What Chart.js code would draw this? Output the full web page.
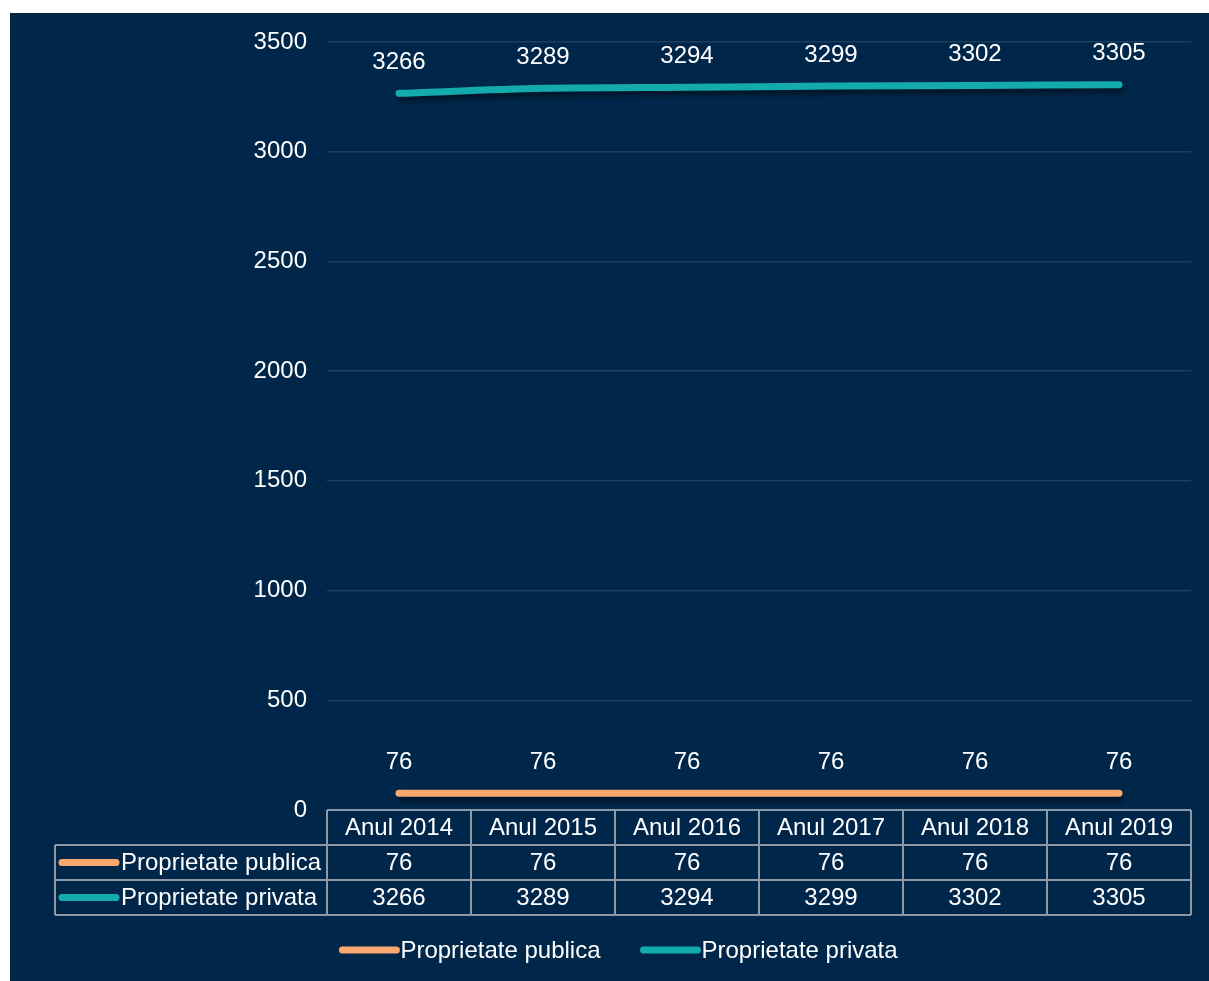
<!DOCTYPE html>
<html>
<head>
<meta charset="utf-8">
<script src="https://cdn.jsdelivr.net/npm/chart.js@4/dist/chart.umd.min.js"></script>
<style>
  body { margin: 0; background: #ffffff; }
  #wrap { position: absolute; left: 10px; top: 13px; width: 1199px; height: 968px; background: #00274a; }
</style>
</head>
<body>
<div id="wrap"><canvas id="myChart"></canvas></div>
<script>
const years = ["Anul 2014", "Anul 2015", "Anul 2016", "Anul 2017", "Anul 2018", "Anul 2019"];
const publica = [76, 76, 76, 76, 76, 76];
const privata = [3266, 3289, 3294, 3299, 3302, 3305];
const seriesNames = ["Proprietate publica", "Proprietate privata"];
const seriesColors = ["#f9a86f", "#14abac"];

const FONT = '24px "Liberation Sans", Arial, sans-serif';

// shadow under the lines
const shadowPlugin = {
  id: 'shadow',
  beforeDatasetDraw(chart) {
    const ctx = chart.ctx;
    ctx.save();
    ctx.shadowColor = 'rgba(0,0,0,0.55)';
    ctx.shadowBlur = 6;
    ctx.shadowOffsetX = 2;
    ctx.shadowOffsetY = 4;
  },
  afterDatasetDraw(chart) {
    chart.ctx.restore();
  }
};

function legendLine(ctx, x1, x2, y, color) {
  ctx.save();
  ctx.strokeStyle = color;
  ctx.lineWidth = 7;
  ctx.lineCap = 'round';
  ctx.beginPath();
  ctx.moveTo(x1, y);
  ctx.lineTo(x2, y);
  ctx.stroke();
  ctx.restore();
}

// data labels, data table and legend
const tablePlugin = {
  id: 'table',
  afterDatasetsDraw(chart) {
    const ctx = chart.ctx;
    ctx.save();
    ctx.font = FONT;
    ctx.fillStyle = '#ffffff';
    ctx.textAlign = 'center';
    ctx.textBaseline = 'middle';
    chart.data.datasets.forEach((ds, di) => {
      chart.getDatasetMeta(di).data.forEach((pt, i) => {
        ctx.fillText(String(ds.data[i]), pt.x, pt.y - 31);
      });
    });
    ctx.restore();
  },
  afterDraw(chart) {
    const ctx = chart.ctx;
    const area = chart.chartArea;
    const xs = chart.scales.x;
    const rowH = 35;
    const top = area.bottom;
    const half = (xs.getPixelForValue(1) - xs.getPixelForValue(0)) / 2;
    const leftX = 45;

    ctx.save();
    ctx.strokeStyle = '#8d99a6';
    ctx.lineWidth = 2;
    // horizontal lines
    ctx.beginPath();
    ctx.moveTo(area.left, top); ctx.lineTo(area.right, top);
    for (let r = 1; r <= 3; r++) {
      ctx.moveTo(leftX, top + r * rowH); ctx.lineTo(area.right, top + r * rowH);
    }
    // vertical lines
    ctx.moveTo(leftX, top + rowH); ctx.lineTo(leftX, top + 3 * rowH);
    for (let i = 0; i < years.length; i++) {
      const x = xs.getPixelForValue(i) - half;
      ctx.moveTo(x, top); ctx.lineTo(x, top + 3 * rowH);
    }
    ctx.moveTo(area.right, top); ctx.lineTo(area.right, top + 3 * rowH);
    ctx.stroke();

    ctx.font = FONT;
    ctx.fillStyle = '#ffffff';
    ctx.textAlign = 'center';
    ctx.textBaseline = 'middle';
    const rows = [publica, privata];
    years.forEach((y, i) => {
      const cx = xs.getPixelForValue(i);
      ctx.fillText(y, cx, top + rowH / 2 + 1);
      rows.forEach((vals, r) => {
        ctx.fillText(String(vals[i]), cx, top + rowH * (r + 1.5) + 1);
      });
    });

    // series keys in the table
    ctx.textAlign = 'left';
    seriesNames.forEach((name, r) => {
      const cy = top + rowH * (r + 1.5);
      legendLine(ctx, 52, 106, cy, seriesColors[r]);
      ctx.fillStyle = '#ffffff';
      ctx.fillText(name, 111, cy + 1);
    });

    // bottom legend
    const ly = 937;
    const w0 = ctx.measureText(seriesNames[0]).width;
    const w1 = ctx.measureText(seriesNames[1]).width;
    const total = 54 + 5 + w0 + 42 + 54 + 5 + w1;
    let x = chart.width / 2 + 11 - total / 2;
    legendLine(ctx, x, x + 54, ly, seriesColors[0]);
    ctx.fillStyle = '#ffffff';
    ctx.fillText(seriesNames[0], x + 58, ly + 1);
    x += 54 + 5 + w0 + 42;
    legendLine(ctx, x, x + 54, ly, seriesColors[1]);
    ctx.fillStyle = '#ffffff';
    ctx.fillText(seriesNames[1], x + 58, ly + 1);
    ctx.restore();
  }
};

const createdChart = document.getElementById('myChart');
new Chart(createdChart, {
  type: 'line',
  data: {
    labels: years,
    datasets: [
      {
        label: seriesNames[0],
        data: publica,
        borderColor: seriesColors[0],
        borderWidth: 7,
        borderCapStyle: 'round',
        pointRadius: 0,
        tension: 0.3
      },
      {
        label: seriesNames[1],
        data: privata,
        borderColor: seriesColors[1],
        borderWidth: 7,
        borderCapStyle: 'round',
        pointRadius: 0,
        tension: 0.3
      }
    ]
  },
  options: {
    responsive: true,
    maintainAspectRatio: false,
    animation: false,
    layout: { padding: { top: 29, right: 18, left: 0, bottom: 0 } },
    plugins: {
      legend: { display: false },
      tooltip: { enabled: false }
    },
    scales: {
      x: {
        offset: true,
        grid: { display: false },
        border: { display: false },
        ticks: { display: false },
        afterFit(scale) { scale.height = 171; }
      },
      y: {
        min: 0,
        max: 3500,
        ticks: {
          stepSize: 500,
          color: '#ffffff',
          padding: 20,
          font: { family: '"Liberation Sans", Arial, sans-serif', size: 24 },
          callback: (v) => String(v)
        },
        grid: {
          drawTicks: false,
          lineWidth: 1.5,
          color: (c) => c.tick && c.tick.value === 0 ? 'rgba(0,0,0,0)' : '#1d3f62'
        },
        border: { display: false },
        afterFit(scale) {
          scale.width = 317;
          scale.paddingTop = 0;
          scale.paddingBottom = 0;
        }
      }
    }
  },
  plugins: [shadowPlugin, tablePlugin]
});
</script>
</body>
</html>
